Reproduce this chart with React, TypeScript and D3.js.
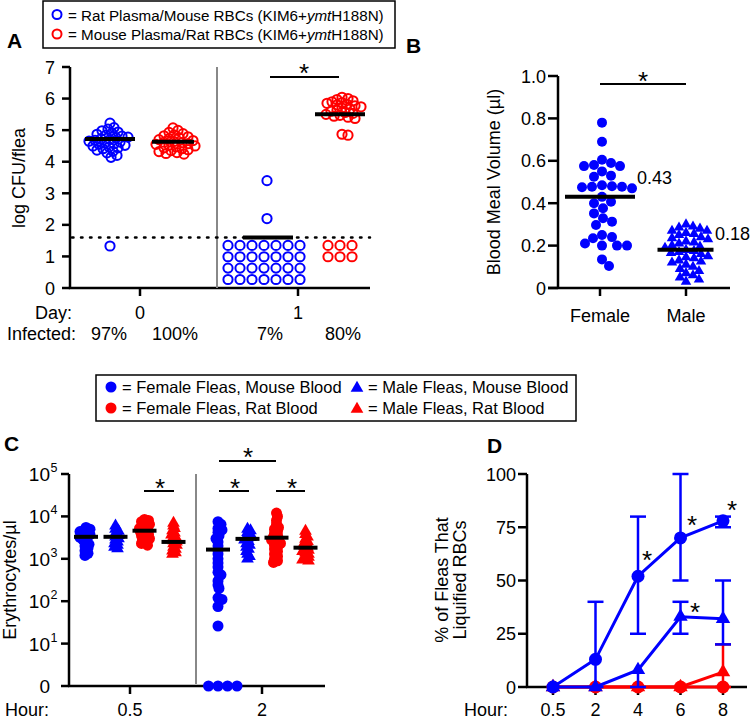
import React from 'react';
import * as d3 from 'd3';

const BLUE = '#0000ff';
const RED = '#ff0000';
const FONT = "'Liberation Sans', Arial, Helvetica, sans-serif";

// ---------------- Panel A data ----------------
const aYTicks = [0, 1, 2, 3, 4, 5, 6, 7];
const aDays = ['0', '1'];
const aInfected = ['97%', '100%', '7%', '80%'];
const aDetectionLimit = 1.6;
const aBlueDay0 = [5.22, 5.08, 5.03, 4.98, 4.94, 4.9, 4.87, 4.84, 4.81, 4.78, 4.76, 4.73, 4.7, 4.68, 4.65, 4.62, 4.6, 4.57, 4.55, 4.52, 4.5, 4.47, 4.44, 4.41, 4.37, 4.33, 4.28, 4.2, 4.14, 1.33];
const aRedDay0 = [5.07, 4.99, 4.93, 4.89, 4.85, 4.82, 4.79, 4.76, 4.73, 4.7, 4.67, 4.64, 4.62, 4.6, 4.57, 4.55, 4.52, 4.5, 4.47, 4.44, 4.41, 4.38, 4.35, 4.32, 4.29, 4.26, 4.24];
const aBlueDay1 = [3.4, 2.2];
const aBlueDay1Undetected = [1.35, 1.35, 1.35, 1.35, 1.35, 1.35, 1.35, 0.99, 0.99, 0.99, 0.99, 0.99, 0.99, 0.99, 0.63, 0.63, 0.63, 0.63, 0.63, 0.63, 0.63, 0.27, 0.27, 0.27, 0.27, 0.27, 0.27, 0.27];
const aRedDay1 = [6.04, 6.0, 5.97, 5.93, 5.9, 5.87, 5.85, 5.82, 5.8, 5.77, 5.74, 5.7, 5.67, 5.63, 5.6, 5.56, 5.53, 5.5, 5.47, 5.44, 5.41, 5.37, 4.87, 4.84];
const aRedDay1Undetected = [1.35, 1.35, 1.35, 0.99, 0.99, 0.99];
const aMedians = [4.72, 4.63, 1.6, 5.5];

// ---------------- Panel B data ----------------
const bYTicks = [0, 0.2, 0.4, 0.6, 0.8, 1.0];
const bGroups = ['Female', 'Male'];
const bFemale = [0.78, 0.69, 0.605, 0.59, 0.58, 0.575, 0.575, 0.55, 0.53, 0.525, 0.485, 0.48, 0.478, 0.478, 0.475, 0.47, 0.43, 0.407, 0.4, 0.376, 0.352, 0.329, 0.313, 0.297, 0.25, 0.24, 0.235, 0.21, 0.2, 0.2, 0.2, 0.135, 0.104];
const bMale = [0.3, 0.29, 0.285, 0.28, 0.27, 0.27, 0.26, 0.255, 0.25, 0.24, 0.235, 0.23, 0.22, 0.215, 0.21, 0.2, 0.195, 0.19, 0.18, 0.175, 0.17, 0.165, 0.16, 0.15, 0.145, 0.14, 0.13, 0.125, 0.12, 0.11, 0.1, 0.09, 0.08, 0.07, 0.06, 0.05, 0.04, 0.03];
const bMedians = [0.43, 0.18];
const bMedianLabels = ['0.43', '0.18'];

// ---------------- Panel C data ----------------
const cHours = ['0.5', '2'];
const cYTickExponents = [0, 1, 2, 3, 4, 5];
const cFemaleMouse05 = [5500, 5000, 4700, 4400, 4000, 3700, 3400, 3200, 3000, 2800, 2500, 2200, 2000, 1800, 1550, 1350, 1200];
const cMaleMouse05 = [6000, 5000, 4500, 4000, 3600, 3300, 3000, 2800, 2500, 2300, 2100, 1900, 1750];
const cFemaleRat05 = [8500, 8000, 7500, 7000, 6500, 6000, 5600, 5200, 4900, 4600, 4300, 4000, 3800, 3500, 3200, 3000, 2800, 2500, 2300, 2100];
const cMaleRat05 = [7000, 6000, 5200, 4600, 4100, 3700, 3300, 3000, 2700, 2500, 2300, 2100, 1900, 1700, 1550, 1400, 1300];
const cFemaleMouse2 = [7500, 6500, 5200, 4800, 4200, 3500, 3000, 2500, 2000, 1600, 1300, 1000, 800, 640, 480, 420, 300, 240, 200, 120, 110, 75, 26, 1, 1, 1, 1];
const cMaleMouse2 = [5000, 4600, 4200, 3800, 3500, 3200, 3000, 2800, 2600, 2300, 2100, 1900, 1700, 1500, 1300, 1150, 1000];
const cFemaleRat2 = [12000, 10000, 8000, 6500, 5500, 5000, 4500, 4000, 3600, 3300, 3000, 2800, 2500, 2300, 2100, 1900, 1700, 1500, 1300, 1150, 1000, 900, 820];
const cMaleRat2 = [4500, 3800, 3300, 2900, 2600, 2400, 2200, 2000, 1850, 1700, 1600, 1500, 1400, 1300, 1200, 1100, 1000, 950, 900];
const cMedians05 = [3300, 3300, 4600, 2500];
const cMedians2 = [1650, 2950, 3150, 1830];

// ---------------- Panel D data ----------------
const dHours = ['0.5', '2', '4', '6', '8'];
const dYTicks = [0, 25, 50, 75, 100];
const dFemaleMouse = [0, 13, 52, 70, 78];
const dFemaleMouseLo = [0, 0, 25, 50, 75];
const dFemaleMouseHi = [0, 40, 80, 100, 80];
const dMaleMouse = [0, 0, 8, 33, 32];
const dMaleMouseLo = [0, 0, 0, 25, 20];
const dMaleMouseHi = [0, 0, 8, 40, 50];
const dFemaleRat = [0, 0, 0, 0, 0];
const dFemaleRatLo = [0, 0, 0, 0, 0];
const dFemaleRatHi = [0, 0, 0, 0, 0];
const dMaleRat = [0, 0, 0, 0, 7];
const dMaleRatLo = [0, 0, 0, 0, 0];
const dMaleRatHi = [0, 0, 0, 0, 20];

type P = { v: number; x: number; y: number };
function swarm(values: number[], y: (v: number) => number, cx: number, minD: number, step = 1): P[] {
  const pts: P[] = values.map(v => ({ v, x: cx, y: y(v) }));
  const order = pts.slice().sort((a, b) => a.y - b.y);
  const placed: P[] = [];
  for (const p of order) {
    for (let k = 0; k < 600; k++) {
      const off = k === 0 ? 0 : (k % 2 ? 1 : -1) * Math.ceil(k / 2) * step;
      const x = cx + off;
      if (placed.every(q => (q.x - x) ** 2 + (q.y - p.y) ** 2 >= minD * minD - 1e-6)) { p.x = x; break; }
    }
    placed.push(p);
  }
  return pts;
}

const tri = (area: number) => d3.symbol(d3.symbolTriangle, area)() as string;

function Star({ x, y, size = 26 }: { x: number; y: number; size?: number }) {
  return <text x={x} y={y + size * 0.58} fontSize={size} textAnchor="middle">*</text>;
}

function PanelA() {
  const y = d3.scaleLinear().domain([0, 7]).range([288, 67]);
  const x = d3.scalePoint<string>().domain(aDays).range([140, 298]);
  const x0 = x('0')!, x1 = x('1')!;
  const groups = [
    { pts: swarm(aBlueDay0, y, x0 - 30, 5.6), c: BLUE },
    { pts: swarm(aRedDay0, y, x0 + 33, 5.6), c: RED },
    { pts: swarm(aBlueDay1, y, x1 - 31, 6), c: BLUE },
    { pts: swarm(aBlueDay1Undetected, y, x1 - 34, 11, 12), c: BLUE },
    { pts: swarm(aRedDay1, y, x1 + 44, 5.2), c: RED },
    { pts: swarm(aRedDay1Undetected, y, x1 + 42, 11, 12), c: RED },
  ];
  const medX = [x0 - 30, x0 + 33, x1 - 30, x1 + 42];
  const medHW = [25, 21, 25, 25];
  const labelX = [x0 - 31, x0 + 35, x1 - 28, x1 + 45];
  return (
    <g>
      <text x={7} y={48} fontSize={21} fontWeight="bold">A</text>
      <rect x={43} y={1} width={352} height={47} fill="none" stroke="#000" strokeWidth={1.5} />
      <circle cx={57} cy={14.5} r={4.5} fill="none" stroke={BLUE} strokeWidth={2} />
      <text x={68} y={20.5} fontSize={15.2}>= Rat Plasma/Mouse RBCs (KIM6+<tspan fontStyle="italic">ymt</tspan>H188N)</text>
      <circle cx={57} cy={34} r={4.5} fill="none" stroke={RED} strokeWidth={2} />
      <text x={68} y={40} fontSize={15.2}>= Mouse Plasma/Rat RBCs (KIM6+<tspan fontStyle="italic">ymt</tspan>H188N)</text>

      <line x1={70} x2={70} y1={y(7)} y2={y(0)} stroke="#000" strokeWidth={2.5} />
      <line x1={68.8} x2={370} y1={y(0)} y2={y(0)} stroke="#000" strokeWidth={2.5} />
      {aYTicks.map(t => (
        <g key={t}>
          <line x1={62} x2={70} y1={y(t)} y2={y(t)} stroke="#000" strokeWidth={2.5} />
          <text x={55} y={y(t) + 6.5} fontSize={18} textAnchor="end">{t}</text>
        </g>
      ))}
      {aDays.map(d => (
        <g key={d}>
          <line x1={x(d)!} x2={x(d)!} y1={y(0)} y2={y(0) + 8} stroke="#000" strokeWidth={2.5} />
          <text x={x(d)!} y={318.5} fontSize={18} textAnchor="middle">{d}</text>
        </g>
      ))}
      <text x={72} y={318.5} fontSize={18} textAnchor="end">Day:</text>
      <text x={76} y={340} fontSize={18} textAnchor="end">Infected:</text>
      {aInfected.map((t, i) => (
        <text key={i} x={labelX[i]} y={340} fontSize={18} textAnchor="middle">{t}</text>
      ))}
      <text transform={`translate(25,178) rotate(-90)`} fontSize={18} textAnchor="middle">log CFU/flea</text>
      <line x1={217} x2={217} y1={y(7)} y2={y(0)} stroke="#888" strokeWidth={2} />
      <line x1={72} x2={370} y1={y(aDetectionLimit)} y2={y(aDetectionLimit)} stroke="#000" strokeWidth={2.5} strokeDasharray="1.5 7.5" strokeLinecap="round" />

      {groups.map((g, gi) => g.pts.map((p, i) => (
        <circle key={gi + '-' + i} cx={p.x} cy={p.y} r={4.6} fill="none" stroke={g.c} strokeWidth={2} />
      )))}
      {aMedians.map((m, i) => (
        <line key={i} x1={medX[i] - medHW[i]} x2={medX[i] + medHW[i]} y1={y(m)} y2={y(m)} stroke="#000" strokeWidth={4} />
      ))}
      <line x1={270} x2={339} y1={77} y2={77} stroke="#000" strokeWidth={2} />
      <Star x={304} y={67} />
    </g>
  );
}

function PanelB() {
  const y = d3.scaleLinear().domain([0, 1]).range([288, 76]);
  const x = d3.scalePoint<string>().domain(bGroups).range([600, 686]);
  const fem = swarm(bFemale, y, x('Female')! + 2, 9.5);
  const male = swarm(bMale, y, x('Male')!, 7.2);
  const medHW = [35, 28];
  const medCX = [x('Female')!, x('Male')! - 0.5];
  return (
    <g>
      <text x={406} y={53} fontSize={21} fontWeight="bold">B</text>
      <line x1={558} x2={558} y1={y(1)} y2={y(0)} stroke="#000" strokeWidth={2.5} />
      <line x1={548} x2={730} y1={y(0)} y2={y(0)} stroke="#000" strokeWidth={2.5} />
      {bYTicks.map(t => (
        <g key={t}>
          <line x1={548} x2={558} y1={y(t)} y2={y(t)} stroke="#000" strokeWidth={2.5} />
          <text x={546} y={y(t) + 6.5} fontSize={18} textAnchor="end">{t === 0 ? '0' : t.toFixed(1)}</text>
        </g>
      ))}
      {bGroups.map(g => (
        <g key={g}>
          <line x1={x(g)!} x2={x(g)!} y1={y(0)} y2={y(0) + 8} stroke="#000" strokeWidth={2.5} />
          <text x={x(g)!} y={322} fontSize={18} textAnchor="middle">{g}</text>
        </g>
      ))}
      <text transform={`translate(500,182) rotate(-90)`} fontSize={18} textAnchor="middle">Blood Meal Volume (µl)</text>
      {fem.map((p, i) => <circle key={i} cx={p.x} cy={p.y} r={5} fill={BLUE} />)}
      {male.map((p, i) => <path key={i} d={tri(48)} transform={`translate(${p.x},${p.y})`} fill={BLUE} />)}
      {bMedians.map((m, i) => (
        <line key={i} x1={medCX[i] - medHW[i]} x2={medCX[i] + medHW[i]} y1={y(m)} y2={y(m)} stroke="#000" strokeWidth={4} />
      ))}
      <text x={637} y={184} fontSize={18}>{bMedianLabels[0]}</text>
      <text x={715} y={240} fontSize={18}>{bMedianLabels[1]}</text>
      <line x1={600} x2={686} y1={84} y2={84} stroke="#000" strokeWidth={2} />
      <Star x={643} y={75} />
    </g>
  );
}

function PanelC() {
  const y = d3.scaleLog().domain([1, 1e5]).range([686, 474]);
  const x = d3.scalePoint<string>().domain(cHours).range([130, 262]);
  const offs = [-44, -14.5, 14.5, 43.5];
  const colors = [BLUE, BLUE, RED, RED];
  const shapes = ['c', 't', 'c', 't'];
  const sets = [
    [cFemaleMouse05, cMaleMouse05, cFemaleRat05, cMaleRat05],
    [cFemaleMouse2, cMaleMouse2, cFemaleRat2, cMaleRat2],
  ];
  const meds = [cMedians05, cMedians2];
  return (
    <g>
      <text x={4} y={451} fontSize={21} fontWeight="bold">C</text>
      <rect x={96} y={375} width={480} height={46} fill="none" stroke="#000" strokeWidth={1.5} />
      <circle cx={111} cy={387} r={5.5} fill={BLUE} />
      <text x={122} y={393} fontSize={16.5}>= Female Fleas, Mouse Blood</text>
      <path d={tri(70)} transform="translate(357,388)" fill={BLUE} />
      <text x={368} y={393} fontSize={16.5}>= Male Fleas, Mouse Blood</text>
      <circle cx={111} cy={408} r={5.5} fill={RED} />
      <text x={122} y={414} fontSize={16.5}>= Female Fleas, Rat Blood</text>
      <path d={tri(70)} transform="translate(357,409)" fill={RED} />
      <text x={368} y={414} fontSize={16.5}>= Male Fleas, Rat Blood</text>

      <line x1={69} x2={69} y1={y(1e5)} y2={y(1)} stroke="#000" strokeWidth={2.5} />
      <line x1={68} x2={325} y1={y(1)} y2={y(1)} stroke="#000" strokeWidth={2.5} />
      {cYTickExponents.map(e => (
        <g key={e}>
          <line x1={61} x2={69} y1={y(10 ** e)} y2={y(10 ** e)} stroke="#000" strokeWidth={2.5} />
          {e === 0 ? (
            <text x={50} y={y(1) + 7} fontSize={19} textAnchor="end">0</text>
          ) : (
            <g>
              <text x={50} y={y(10 ** e) + 7} fontSize={19} textAnchor="end">10</text>
              <text x={50.5} y={y(10 ** e) - 2} fontSize={12.5}>{e}</text>
            </g>
          )}
        </g>
      ))}
      {cHours.map(h => (
        <g key={h}>
          <line x1={x(h)!} x2={x(h)!} y1={y(1)} y2={y(1) + 8} stroke="#000" strokeWidth={2.5} />
          <text x={x(h)!} y={716} fontSize={18} textAnchor="middle">{h}</text>
        </g>
      ))}
      <text x={5} y={716} fontSize={18}>Hour:</text>
      <text transform={`translate(16,580) rotate(-90)`} fontSize={18} textAnchor="middle">Erythrocytes/µl</text>
      <line x1={196} x2={196} y1={y(1e5)} y2={684} stroke="#888" strokeWidth={2} />
      {sets.map((set, hi) => set.map((vals, si) => {
        const cx = x(cHours[hi])! + offs[si];
        const zeros = vals.filter(v => v <= 1);
        const nz = vals.filter(v => v > 1);
        const minD = shapes[si] === 'c' ? 3.5 : 2.8;
        const pts = swarm(nz, v => y(v), cx, minD).concat(swarm(zeros, v => y(v), cx, 9.5, 9.5));
        return pts.map((p, i) => shapes[si] === 'c'
          ? <circle key={hi + '-' + si + '-' + i} cx={p.x} cy={p.y} r={5.5} fill={colors[si]} />
          : <path key={hi + '-' + si + '-' + i} d={tri(70)} transform={`translate(${p.x},${p.y})`} fill={colors[si]} />);
      }))}
      {meds.map((m, hi) => m.map((v, si) => {
        const cx = x(cHours[hi])! + offs[si];
        return <line key={hi + '-' + si} x1={cx - 12} x2={cx + 12} y1={y(v)} y2={y(v)} stroke="#000" strokeWidth={4} />;
      }))}
      <line x1={144} x2={174} y1={491} y2={491} stroke="#000" strokeWidth={2} />
      <Star x={160} y={482} />
      <line x1={219} x2={249} y1={491} y2={491} stroke="#000" strokeWidth={2} />
      <Star x={235} y={482} />
      <line x1={276} x2={305} y1={491} y2={491} stroke="#000" strokeWidth={2} />
      <Star x={292} y={482} />
      <line x1={219} x2={276} y1={461} y2={461} stroke="#000" strokeWidth={2} />
      <Star x={248} y={451} />
    </g>
  );
}

function PanelD() {
  const y = d3.scaleLinear().domain([0, 100]).range([687, 474]);
  const x = d3.scalePoint<string>().domain(dHours).range([553, 723]);
  const series = [
    { m: dFemaleRat, lo: dFemaleRatLo, hi: dFemaleRatHi, c: RED, s: 'c' },
    { m: dMaleRat, lo: dMaleRatLo, hi: dMaleRatHi, c: RED, s: 't' },
    { m: dMaleMouse, lo: dMaleMouseLo, hi: dMaleMouseHi, c: BLUE, s: 't' },
    { m: dFemaleMouse, lo: dFemaleMouseLo, hi: dFemaleMouseHi, c: BLUE, s: 'c' },
  ];
  const line = d3.line<number>().x((_, i) => x(dHours[i])!).y(v => y(v));
  return (
    <g>
      <text x={487} y={453} fontSize={21} fontWeight="bold">D</text>
      <line x1={527} x2={527} y1={y(100)} y2={y(0)} stroke="#000" strokeWidth={2.5} />
      <line x1={526} x2={747} y1={y(0)} y2={y(0)} stroke="#000" strokeWidth={2.5} />
      {dYTicks.map(t => (
        <g key={t}>
          <line x1={518} x2={527} y1={y(t)} y2={y(t)} stroke="#000" strokeWidth={2.5} />
          <text x={516} y={y(t) + 6.5} fontSize={18} textAnchor="end">{t}</text>
        </g>
      ))}
      {dHours.map(h => (
        <g key={h}>
          <line x1={x(h)!} x2={x(h)!} y1={y(0)} y2={y(0) + 8} stroke="#000" strokeWidth={2.5} />
          <text x={x(h)!} y={716} fontSize={18} textAnchor="middle">{h}</text>
        </g>
      ))}
      <text x={486} y={716} fontSize={18} textAnchor="middle">Hour:</text>
      <text transform={`translate(448,580) rotate(-90)`} fontSize={18} textAnchor="middle">% of Fleas That</text>
      <text transform={`translate(466,580) rotate(-90)`} fontSize={18} textAnchor="middle">Liquified RBCs</text>
      {series.map((s, si) => (
        <g key={si}>
          {s.m.map((v, i) => {
            const cx = x(dHours[i])!;
            return (
              <g key={i}>
                {s.hi[i] > v && <line x1={cx} x2={cx} y1={y(v)} y2={y(s.hi[i])} stroke={s.c} strokeWidth={2.5} />}
                {s.hi[i] > v && <line x1={cx - 8} x2={cx + 8} y1={y(s.hi[i])} y2={y(s.hi[i])} stroke={s.c} strokeWidth={2.5} />}
                {s.lo[i] < v && <line x1={cx} x2={cx} y1={y(v)} y2={y(s.lo[i])} stroke={s.c} strokeWidth={2.5} />}
                {s.lo[i] < v && <line x1={cx - 8} x2={cx + 8} y1={y(s.lo[i])} y2={y(s.lo[i])} stroke={s.c} strokeWidth={2.5} />}
              </g>
            );
          })}
          <path d={line(s.m) as string} fill="none" stroke={s.c} strokeWidth={3} />
          {s.m.map((v, i) => s.s === 'c'
            ? <circle key={i} cx={x(dHours[i])!} cy={y(v)} r={6.5} fill={s.c} />
            : <path key={i} d={tri(90)} transform={`translate(${x(dHours[i])!},${y(v)})`} fill={s.c} />)}
        </g>
      ))}
      <Star x={647} y={554} />
      <Star x={692} y={519} />
      <Star x={732} y={504} />
      <Star x={695} y={606} />
    </g>
  );
}

export default function App() {
  return (
    <svg width={750} height={722} style={{ position: 'absolute', left: 0, top: 0, background: '#fff' }} fontFamily={FONT}>
      <rect width={750} height={722} fill="#fff" />
      <PanelA />
      <PanelB />
      <PanelC />
      <PanelD />
    </svg>
  );
}
